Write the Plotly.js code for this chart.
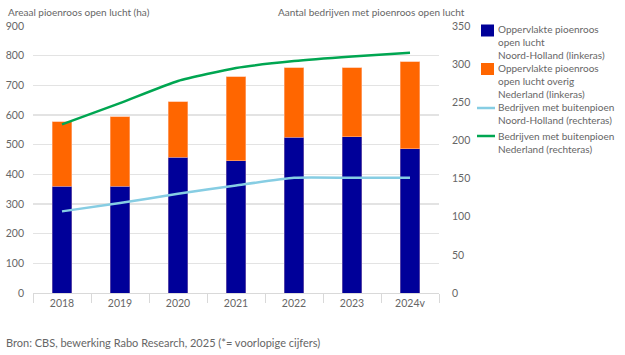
<!DOCTYPE html>
<html><head><meta charset="utf-8">
<script src="https://cdn.plot.ly/plotly-3.0.1.min.js"></script>
<style>html,body{margin:0;padding:0;background:#fff}#chart{width:625px;height:355px}</style>
</head><body><div id="chart"></div>
<script>
const years = ['2018','2019','2020','2021','2022','2023','2024v'];
const areaNH = [360, 360, 457, 445, 525, 527, 487];
const areaOverig = [218, 234, 188, 284, 235, 233, 292];
const bedrijvenNH = [107, 118, 130, 141, 151, 151, 151];
const bedrijvenNL = [221, 249, 278, 295, 304, 310, 315];
const leftTicks = [0,100,200,300,400,500,600,700,800,900];
const rightTicks = [0,50,100,150,200,250,300,350];

const names = ['Oppervlakte pioenroos open lucht Noord-Holland (linkeras)',
  'Oppervlakte pioenroos open lucht overig Nederland (linkeras)',
  'Bedrijven met buitenpioen Noord-Holland (rechteras)',
  'Bedrijven met buitenpioen Nederland (rechteras)'];
const legendLines = [
  ['Oppervlakte pioenroos','open lucht','Noord-Holland (linkeras)'],
  ['Oppervlakte pioenroos','open lucht overig','Nederland (linkeras)'],
  ['Bedrijven met buitenpioen','Noord-Holland (rechteras)'],
  ['Bedrijven met buitenpioen','Nederland (rechteras)']
];
const colors = ['#000099','#ff6600','#86cde3','#00a651'];
const textColor = '#666666';
const FONT = 'Lato, "Open Sans", sans-serif';

// layout geometry (pixels)
const W = 625, H = 355, L = 33, R = 439, T = 26, B = 293;
const px = x => (x - L) / (R - L);
const py = y => (B - y) / (B - T);

const traces = [
  {type:'bar', x: years, y: areaNH, name: names[0], marker:{color:colors[0], line:{color:'#8a6fb0', width:0.6}}, width:0.33, showlegend:false},
  {type:'bar', x: years, y: areaOverig, name: names[1], marker:{color:colors[1], line:{color:'#ffb38a', width:0.6}}, width:0.33, showlegend:false},
  {type:'scatter', mode:'lines', x: years, y: bedrijvenNH, name: names[2], yaxis:'y2', line:{color:colors[2], width:2.5, shape:'spline', smoothing:0.5}, showlegend:false},
  {type:'scatter', mode:'lines', x: years, y: bedrijvenNL, name: names[3], yaxis:'y2', line:{color:colors[3], width:2.5, shape:'spline', smoothing:0.5}, showlegend:false}
];

const shapes = [];
const annotations = [];
// legend symbols and text
const legendCenter = [42, 80.5, 113, 142];
shapes.push({type:'rect', xref:'paper', yref:'paper', x0:px(481), x1:px(494), y0:py(36.5), y1:py(24.5), fillcolor:colors[0], line:{width:0}});
shapes.push({type:'rect', xref:'paper', yref:'paper', x0:px(481), x1:px(494), y0:py(75), y1:py(63), fillcolor:colors[1], line:{width:0}});
shapes.push({type:'line', xref:'paper', yref:'paper', x0:px(477), x1:px(495), y0:py(108), y1:py(108), line:{color:colors[2], width:2.5}});
shapes.push({type:'line', xref:'paper', yref:'paper', x0:px(477), x1:px(495), y0:py(136), y1:py(136), line:{color:colors[3], width:2.5}});
legendLines.forEach((lines, i) => {
  annotations.push({xref:'paper', yref:'paper', x:px(496), y:py(legendCenter[i]), xanchor:'left', yanchor:'middle', align:'left',
    text:lines.join('<br>'), showarrow:false, font:{family:FONT, size:10, color:textColor}});
});
annotations.push({xref:'paper', yref:'paper', x:px(6), y:py(12), xanchor:'left', yanchor:'middle', showarrow:false,
  text:'Areaal pioenroos open lucht (ha)', font:{family:FONT, size:10, color:textColor}});
annotations.push({xref:'paper', yref:'paper', x:px(467), y:py(12), xanchor:'right', yanchor:'middle', showarrow:false,
  text:'Aantal bedrijven met pioenroos open lucht', font:{family:FONT, size:10, color:textColor}});
annotations.push({xref:'paper', yref:'paper', x:px(4), y:py(342), xanchor:'left', yanchor:'middle', showarrow:false,
  text:'Bron: CBS, bewerking Rabo Research, 2025 (*= voorlopige cijfers)', font:{family:FONT, size:11, color:textColor}});

const layout = {
  width: W, height: H,
  margin: {l: L, r: W - R, t: T, b: H - B, pad: 0},
  paper_bgcolor: '#fff', plot_bgcolor: '#fff',
  barmode: 'stack',
  showlegend: false,
  font: {family: FONT, size: 10.5, color: textColor},
  xaxis: {type:'category', range:[-0.5, 6.5], tickson:'boundaries', ticks:'outside', ticklen:9, tickcolor:'#d9d9d9', tickwidth:1,
    showline:true, linecolor:'#d9d9d9', linewidth:1, showgrid:false, fixedrange:true,
    tickfont:{family:FONT, size:10.5, color:textColor}},
  yaxis: {range:[0, 900], tickvals:leftTicks, showgrid:true, gridcolor:'#e3e3e3', gridwidth:1.5, zeroline:false,
    ticks:'', ticklabelstandoff:8, tickfont:{family:FONT, size:10.5, color:textColor}},
  yaxis2: {range:[0, 350], tickvals:rightTicks, overlaying:'y', side:'right', showgrid:false, zeroline:false,
    ticks:'', ticklabelstandoff:12, tickfont:{family:FONT, size:10.5, color:textColor}},
  shapes: shapes,
  annotations: annotations
};

Plotly.newPlot('chart', traces, layout, {displayModeBar:false, staticPlot:true});
</script></body></html>
